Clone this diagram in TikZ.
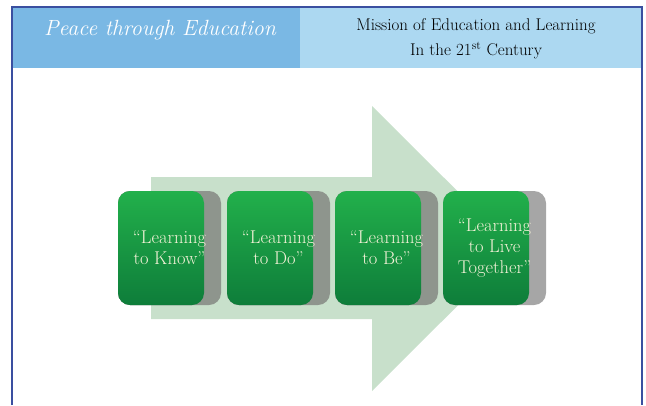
\documentclass[tikz,border=0pt]{standalone}
\usepackage{tikz}
\usepackage{xcolor}

\definecolor{headdark}{HTML}{7AB8E4}
\definecolor{headlight}{HTML}{ACD8F1}
\definecolor{frameblue}{HTML}{3A4FA0}
\definecolor{arrowgreen}{HTML}{C8E0CB}
\definecolor{boxtop}{HTML}{22B04B}
\definecolor{boxbottom}{HTML}{0E7D3A}
\definecolor{boxshade}{HTML}{8E958D}
\definecolor{boxtext}{HTML}{F4F2D8}

\tikzset{
    learnbox/.style={rounded corners=12pt, minimum width=103pt, minimum height=114pt,
        fill=boxshade, text=boxtext, align=center, font=\fontsize{18.5}{21}\selectfont,
        path picture={\fill[top color=boxtop, bottom color=boxbottom]
            (path picture bounding box.north west) rectangle
            ([xshift=-17pt]path picture bounding box.south east);}},
}

\begin{document}
\begin{tikzpicture}[x=1pt, y=-1pt]
            \useasboundingbox (0,0) rectangle (646,405);

            % Header
            \fill[headdark] (12,7) rectangle (300,68);
            \fill[headlight] (300,7) rectangle (642,68);
            \draw[frameblue, line width=1.2pt] (12,405) -- (12,7) -- (642,7) -- (642,405);
            \node[text=white, font=\fontsize{22}{24}\selectfont\itshape] (title) at (160,30) {Peace through Education};
            \node[align=center, font=\fontsize{17}{25}\selectfont] (mission) at (476,39)
                {Mission of Education and Learning\\In the 21\textsuperscript{st} Century};

            % Arrow in the back
            \fill[arrowgreen] (151,177) -- (372,177) -- (372,106) -- (515,248.5)
                -- (372,391) -- (372,319) -- (151,319) -- cycle;

            % Nodes
            \node[learnbox] (know) at (169.5,248) {``Learning\\to Know''};
            \node[learnbox] (do) at (278.5,248) {``Learning\\to Do''};
            \node[learnbox] (be) at (386.5,248) {``Learning\\to Be''};
            \node[learnbox, fill=gray!70] (together) at (494.5,248) {``Learning\\to Live\\Together''};
        \end{tikzpicture}
\end{document}
